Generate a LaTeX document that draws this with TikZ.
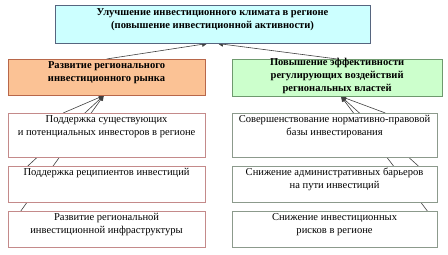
\documentclass[tikz,border=0pt]{standalone}
\usepackage{fontspec}
\setmainfont{Liberation Serif}
\usepackage{xcolor}
\usepackage{tikz}
\usetikzlibrary{arrows.meta, backgrounds}

\definecolor{goalfill}{HTML}{CCFFFF}
\definecolor{goalline}{HTML}{56657F}
\definecolor{marketfill}{HTML}{FBC295}
\definecolor{marketline}{HTML}{B8674A}
\definecolor{powerfill}{HTML}{CCFFCC}
\definecolor{powerline}{HTML}{6E9A6E}
\definecolor{leftline}{HTML}{C48A8A}
\definecolor{rightline}{HTML}{8C9A8C}

\begin{document}
\begin{tikzpicture}[
    box/.style={draw, anchor=north, align=center, inner xsep=2pt, inner ysep=2pt,
                text height=20.5pt, text depth=11.5pt, font=\fontsize{10.5}{13}\selectfont},
    head/.style={box, font=\bfseries\fontsize{10.5}{13}\selectfont},
    lbox/.style={box, draw=leftline, fill=white, minimum width=6.9cm},
    rbox/.style={box, draw=rightline, fill=white, minimum width=7.18cm},
    arrow/.style={-{Triangle[length=5pt, width=5pt]}, line width=0.6pt, draw=black!75}
]
\useasboundingbox (0,0) rectangle (15.68,-8.925);

% Goal
\node[head, fill=goalfill, draw=goalline, minimum width=11.03cm,
      text height=21.5pt, text depth=12.5pt] (goal) at (7.44,-0.175)
      {Улучшение инвестиционного климата в регионе\\(повышение инвестиционной активности)};

% Two directions
\node[head, fill=marketfill, draw=marketline, minimum width=6.9cm] (market) at (3.73,-2.065)
      {Развитие регионального\\инвестиционного рынка};
\node[head, fill=powerfill, draw=powerline, minimum width=7.35cm,
      text height=30pt, text depth=3pt] (power) at (11.8,-2.065)
      {Повышение эффективности\\регулирующих воздействий\\региональных властей};

% Measures, left
\node[lbox, text depth=19.5pt] (investors) at (3.73,-3.955)
      {Поддержка существующих\\и потенциальных инвесторов в регионе};
\node[lbox, text height=7.5pt, text depth=24.5pt] (recipients) at (3.73,-5.81)
      {Поддержка реципиентов инвестиций};
\node[lbox] (infra) at (3.73,-7.385)
      {Развитие региональной\\инвестиционной инфраструктуры};

% Measures, right
\node[rbox, text depth=19.5pt] (lawbase) at (11.71,-3.955)
      {Совершенствование нормативно-правовой\\базы инвестирования};
\node[rbox] (barriers) at (11.71,-5.81)
      {Снижение административных барьеров\\на пути инвестиций};
\node[rbox] (risks) at (11.71,-7.385)
      {Снижение инвестиционных\\рисков в регионе};

\begin{scope}[on background layer]
\draw[arrow] (market.north) -- ([xshift=-0.19cm]goal.south);
\draw[arrow] (power.north)  -- ([xshift=0.19cm]goal.south);

\draw[arrow] ([xshift=-1.52cm]investors.north)  -- ([xshift=-0.1cm]market.south);
\draw[arrow] ([xshift=0.7cm]recipients.north west) -- ([xshift=-0.1cm]market.south);
\draw[arrow] ([xshift=0.455cm]infra.north west)  -- ([xshift=-0.1cm]market.south);

\draw[arrow] ([xshift=-1.82cm]lawbase.north east) -- ([xshift=0.14cm]power.south);
\draw[arrow] ([xshift=-0.665cm]barriers.north east) -- ([xshift=0.14cm]power.south);
\draw[arrow] ([xshift=-0.35cm]risks.north east)   -- ([xshift=0.14cm]power.south);
\end{scope}
\end{tikzpicture}
\end{document}
